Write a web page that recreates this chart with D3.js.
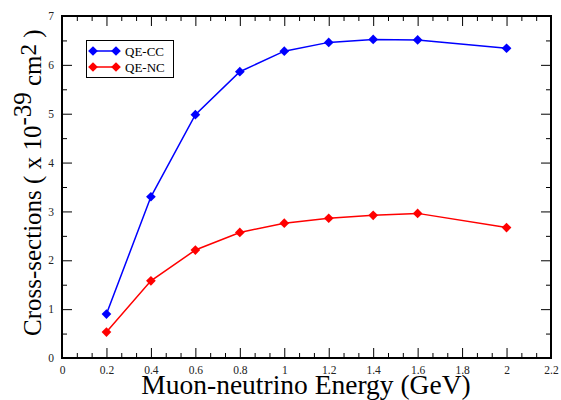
<!DOCTYPE html>
<html><head><meta charset="utf-8">
<script src="https://cdn.jsdelivr.net/npm/d3@7"></script>
<style>body{margin:0;background:#fff}svg{display:block}</style>
</head><body>
<svg id="c" width="561" height="400"></svg>
<script>
const energies = [0.2, 0.4, 0.6, 0.8, 1.0, 1.2, 1.4, 1.6, 2.0];
const qeCC = [0.90, 3.30, 4.98, 5.86, 6.28, 6.46, 6.52, 6.51, 6.34];
const qeNC = [0.53, 1.58, 2.21, 2.57, 2.76, 2.86, 2.92, 2.96, 2.67];
const seriesNames = ["QE-CC", "QE-NC"];
const seriesColors = ["#0000ff", "#ff0000"];
const xTicks = [0, 0.2, 0.4, 0.6, 0.8, 1, 1.2, 1.4, 1.6, 1.8, 2, 2.2];
const yTicks = [0, 1, 2, 3, 4, 5, 6, 7];

const W = 561, H = 400;
const m = {l: 62, r: 10, t: 16, b: 42};
const svg = d3.select("#c");
const x = d3.scaleLinear().domain([0, 2.2]).range([m.l, W - m.r]);
const y = d3.scaleLinear().domain([0, 7]).range([H - m.b, m.t]);
const font = '"Liberation Serif"';

const xMinor = d3.range(0, 2.2001, 0.2/3).filter(v => Math.abs(v/0.2 - Math.round(v/0.2)) > 0.01);
const yMinor = d3.range(0.5, 7, 1);

function axis(gen, tr, vals, len, fmt) {
  const g = svg.append("g").attr("transform", tr)
    .call(gen.tickValues(vals).tickSize(len).tickSizeOuter(0).tickFormat(fmt));
  g.select(".domain").remove();
  g.attr("font-family", null).attr("font-size", null);
  g.selectAll("line").attr("stroke", "#000").attr("stroke-width", 1);
  g.selectAll("text").style("font-family", font).style("font-size", "11.5px").attr("fill", "#222");
  return g;
}
const fmt = d => d3.format("")(+d.toFixed(1));
// bottom
axis(d3.axisBottom(x), `translate(0,${H-m.b})`, xTicks, -10, fmt)
  .selectAll("text").attr("y", 16).attr("dy", null);
axis(d3.axisBottom(x), `translate(0,${H-m.b})`, xMinor, -5, "");
// top
axis(d3.axisTop(x), `translate(0,${m.t})`, xTicks, -10, "");
axis(d3.axisTop(x), `translate(0,${m.t})`, xMinor, -5, "");
// left
axis(d3.axisLeft(y), `translate(${m.l},0)`, yTicks, -10, fmt)
  .selectAll("text").attr("x", -8);
axis(d3.axisLeft(y), `translate(${m.l},0)`, yMinor, -5, "");
// right
axis(d3.axisRight(y), `translate(${W-m.r},0)`, yTicks, -10, "");
axis(d3.axisRight(y), `translate(${W-m.r},0)`, yMinor, -5, "");

// frame
svg.append("rect").attr("x", m.l).attr("y", m.t)
  .attr("width", W - m.l - m.r).attr("height", H - m.t - m.b)
  .attr("fill", "none").attr("stroke", "#000").attr("stroke-width", 2);

const diamond = d3.symbol().type(d3.symbolDiamond2).size(60);
[qeCC, qeNC].forEach((vals, i) => {
  const pts = energies.map((e, j) => [e, vals[j]]);
  svg.append("path").datum(pts)
    .attr("d", d3.line().x(d => x(d[0])).y(d => y(d[1])))
    .attr("fill", "none").attr("stroke", seriesColors[i]).attr("stroke-width", 1.5);
  svg.selectAll(null).data(pts).enter().append("path")
    .attr("transform", d => `translate(${x(d[0])},${y(d[1])})`)
    .attr("d", diamond).attr("fill", seriesColors[i]);
});

// legend
const lg = svg.append("g");
lg.append("rect").attr("x", 86.5).attr("y", 40.5).attr("width", 87).attr("height", 37)
  .attr("fill", "#fff").attr("stroke", "#000").attr("stroke-width", 1);
seriesNames.forEach((n, i) => {
  const yy = 51 + i * 16;
  lg.append("line").attr("x1", 93).attr("x2", 116).attr("y1", yy).attr("y2", yy)
    .attr("stroke", seriesColors[i]).attr("stroke-width", 1.5);
  [93, 116].forEach(xx => lg.append("path").attr("transform", `translate(${xx},${yy})`)
    .attr("d", diamond).attr("fill", seriesColors[i]));
  lg.append("text").attr("x", 125).attr("y", yy + 4.5).text(n)
    .style("font-family", font).style("font-size", "13px").attr("fill", "#000");
});

// axis titles
svg.append("text").attr("x", 306).attr("y", 394).attr("text-anchor", "middle")
  .style("font-family", font).style("font-size", "27.5px").attr("fill", "#000")
  .text("Muon-neutrino Energy (GeV)");

const yt = svg.append("text").attr("transform", "translate(41,336) rotate(-90)")
  .attr("text-anchor", "start").style("font-family", font).style("font-size", "25px").attr("fill", "#000");
yt.append("tspan").text("Cross-sections ( x 10");
yt.append("tspan").attr("dy", -10).text("-39");
yt.append("tspan").attr("dy", 10).text(" cm");
yt.append("tspan").attr("dy", -5).style("font-size", "23px").text("2");
yt.append("tspan").attr("dy", 5).text(" )");
</script>
</body></html>
